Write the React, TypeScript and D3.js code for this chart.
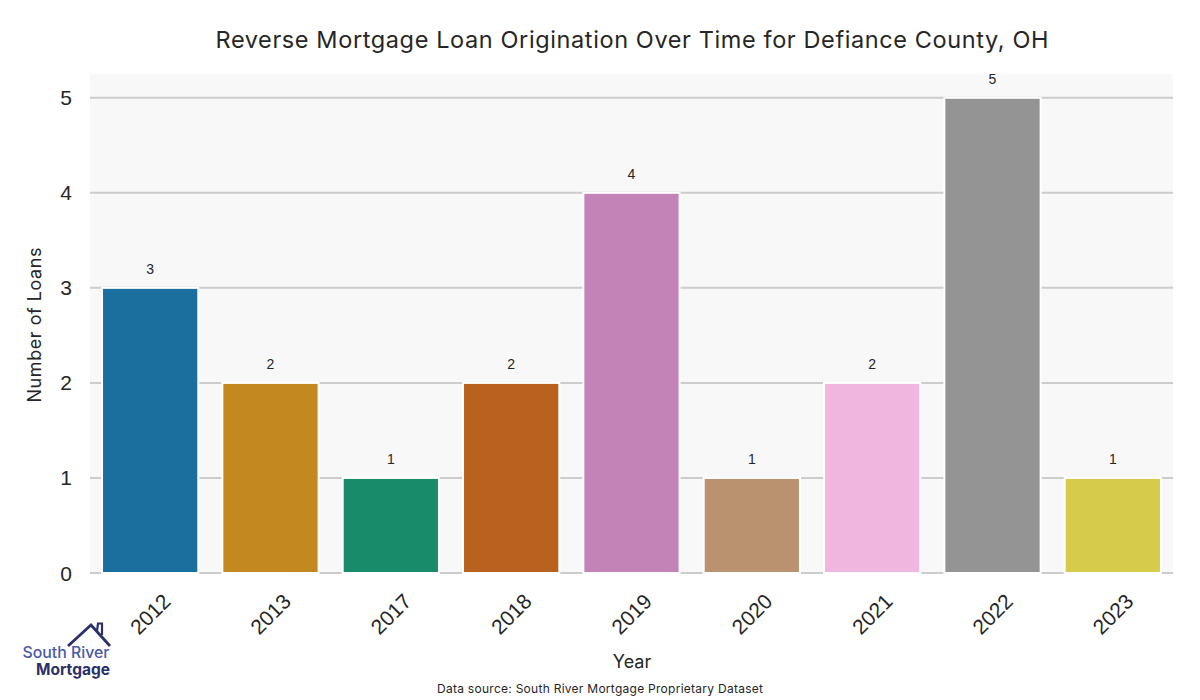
import React from "react";
import * as d3 from "d3";

const years = ["2012", "2013", "2017", "2018", "2019", "2020", "2021", "2022", "2023"];
const loans = [3, 2, 1, 2, 4, 1, 2, 5, 1];
const colors = ["#1a6f9f", "#c38820", "#178b6a", "#b9611e", "#c383b6", "#bb9270", "#f0b6e0", "#949494", "#d6cb4a"];
const yTicks = [0, 1, 2, 3, 4, 5];

export default function App() {
  const W = 1200, H = 700;
  const left = 90, right = 1173, top = 74, bottom = 573;
  const x = d3.scaleBand<string>().domain(years).range([left, right]).paddingInner(0.2).paddingOuter(0.1);
  const y = d3.scaleLinear().domain([0, 5.25]).range([bottom, top]);
  const sans = "'Liberation Sans', Arial, sans-serif";
  const geo = "Inter, 'Noto Sans', sans-serif";
  return (
    <svg width={W} height={H} style={{ position: "absolute", left: 0, top: 0, background: "#fff" }}>
      <rect x={left} y={top} width={right - left} height={bottom - top} fill="#f8f8f8" />
      {yTicks.map((t) => (
        <g key={t}>
          <line x1={left} x2={right} y1={y(t)} y2={y(t)} stroke="#cccccc" strokeWidth={2} />
          <text x={left - 18} y={y(t)} textAnchor="end" dominantBaseline="central" fontFamily={sans} fontSize={21} fill="#262626">{t}</text>
        </g>
      ))}
      {years.map((yr, i) => (
        <g key={yr}>
          <rect x={x(yr)!} y={y(loans[i])} width={x.bandwidth()} height={y(0) - y(loans[i])} fill={colors[i]} stroke="#ffffff" strokeWidth={2} />
          <text x={x(yr)! + x.bandwidth() / 2} y={y(loans[i]) - 14} textAnchor="middle" fontFamily={sans} fontSize={14} fill="#262626">{loans[i]}</text>
          <text transform={`translate(${x(yr)! + x.bandwidth() / 2},${614}) rotate(-45)`} textAnchor="middle" dominantBaseline="central" fontFamily={sans} fontSize={21} fill="#262626">{yr}</text>
        </g>
      ))}
      <text x={632} y={48} textAnchor="middle" fontFamily={geo} fontSize={23.5} textLength={833} lengthAdjust="spacing" fill="#262626">Reverse Mortgage Loan Origination Over Time for Defiance County, OH</text>
      <text transform={`translate(41,325) rotate(-90)`} textAnchor="middle" fontFamily={geo} fontSize={18} textLength={155} lengthAdjust="spacing" fill="#262626">Number of Loans</text>
      <text x={632} y={668} textAnchor="middle" fontFamily={geo} fontSize={18} fill="#262626">Year</text>
      <text x={600} y={693} textAnchor="middle" fontFamily={geo} fontSize={12} textLength={326} lengthAdjust="spacing" fill="#262626">Data source: South River Mortgage Proprietary Dataset</text>
      <g>
        <path d="M68,646 L91,625 L110,646" fill="none" stroke="#2a3068" strokeWidth={2.8} strokeLinejoin="miter" />
        <path d="M97,631 L98,623.5 L102,623.5 L102,635" fill="none" stroke="#2a3068" strokeWidth={2.2} />
        <text x={66} y={658} textAnchor="middle" fontFamily={geo} fontWeight={500} fontSize={15.5} textLength={87} lengthAdjust="spacingAndGlyphs" fill="#4a5aa8">South River</text>
        <text x={73} y={675} textAnchor="middle" fontFamily={geo} fontWeight={700} fontSize={15.5} textLength={74} lengthAdjust="spacingAndGlyphs" fill="#2a3068">Mortgage</text>
      </g>
    </svg>
  );
}
